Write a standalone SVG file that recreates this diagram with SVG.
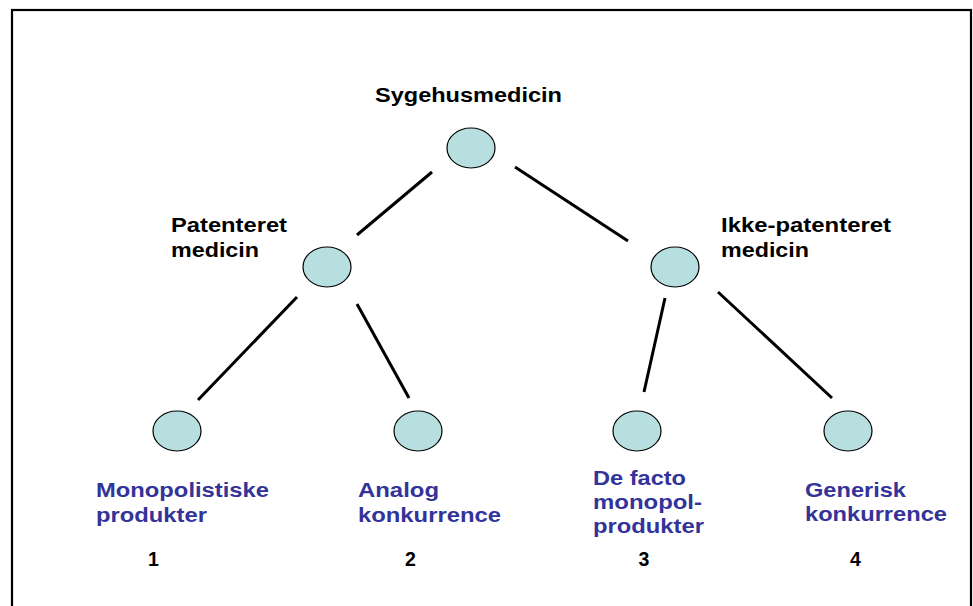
<svg xmlns="http://www.w3.org/2000/svg" width="973" height="606" viewBox="0 0 973 606">
<style>
.t{font-family:"Liberation Sans",Arial,sans-serif;font-weight:bold;font-size:19.5px;fill:#000}
.b{font-family:"Liberation Sans",Arial,sans-serif;font-weight:bold;font-size:19.5px;fill:#333399}
.n{fill:#b8dfe0;stroke:#000;stroke-width:1.2}
.c{stroke:#000;stroke-width:3;fill:none}
</style>
<rect x="0" y="0" width="973" height="606" fill="#fff"/>
<rect x="12" y="10" width="959" height="610" fill="none" stroke="#000" stroke-width="2.2"/>
<g id="connectors">
<line class="c" x1="432" y1="172" x2="357" y2="235"/>
<line class="c" x1="515" y1="167" x2="628" y2="241"/>
<line class="c" x1="297" y1="297" x2="198" y2="400"/>
<line class="c" x1="357" y1="304" x2="409" y2="398"/>
<line class="c" x1="665" y1="298" x2="644" y2="392"/>
<line class="c" x1="718" y1="292" x2="832" y2="398"/>
</g>
<g id="root">
<ellipse class="n" cx="471" cy="148" rx="24" ry="20"/>
<text class="t" x="375" y="102" textLength="187" lengthAdjust="spacingAndGlyphs">Sygehusmedicin</text>
</g>
<g id="patenteret">
<ellipse class="n" cx="327" cy="267" rx="24" ry="20"/>
<text class="t" x="171" y="232" textLength="116" lengthAdjust="spacingAndGlyphs">Patenteret</text>
<text class="t" x="171" y="257" textLength="88" lengthAdjust="spacingAndGlyphs">medicin</text>
</g>
<g id="ikke-patenteret">
<ellipse class="n" cx="675" cy="267" rx="24" ry="20"/>
<text class="t" x="721" y="232" textLength="170" lengthAdjust="spacingAndGlyphs">Ikke-patenteret</text>
<text class="t" x="721" y="257" textLength="88" lengthAdjust="spacingAndGlyphs">medicin</text>
</g>
<g id="leaf1">
<ellipse class="n" cx="177" cy="431" rx="24" ry="20"/>
<text class="b" x="96" y="497" textLength="173" lengthAdjust="spacingAndGlyphs">Monopolistiske</text>
<text class="b" x="96" y="522" textLength="111" lengthAdjust="spacingAndGlyphs">produkter</text>
<text class="t" x="153.5" y="566" text-anchor="middle">1</text>
</g>
<g id="leaf2">
<ellipse class="n" cx="418" cy="431" rx="24" ry="20"/>
<text class="b" x="358" y="497" textLength="81" lengthAdjust="spacingAndGlyphs">Analog</text>
<text class="b" x="358" y="522" textLength="143" lengthAdjust="spacingAndGlyphs">konkurrence</text>
<text class="t" x="410.5" y="566" text-anchor="middle">2</text>
</g>
<g id="leaf3">
<ellipse class="n" cx="637" cy="431" rx="24" ry="20"/>
<text class="b" x="593" y="485" textLength="93" lengthAdjust="spacingAndGlyphs">De facto</text>
<text class="b" x="593" y="509" textLength="109" lengthAdjust="spacingAndGlyphs">monopol-</text>
<text class="b" x="593" y="533" textLength="111" lengthAdjust="spacingAndGlyphs">produkter</text>
<text class="t" x="644" y="566" text-anchor="middle">3</text>
</g>
<g id="leaf4">
<ellipse class="n" cx="848" cy="431" rx="24" ry="20"/>
<text class="b" x="805" y="497" textLength="101" lengthAdjust="spacingAndGlyphs">Generisk</text>
<text class="b" x="805" y="521" textLength="142" lengthAdjust="spacingAndGlyphs">konkurrence</text>
<text class="t" x="855.5" y="566" text-anchor="middle">4</text>
</g>
</svg>
